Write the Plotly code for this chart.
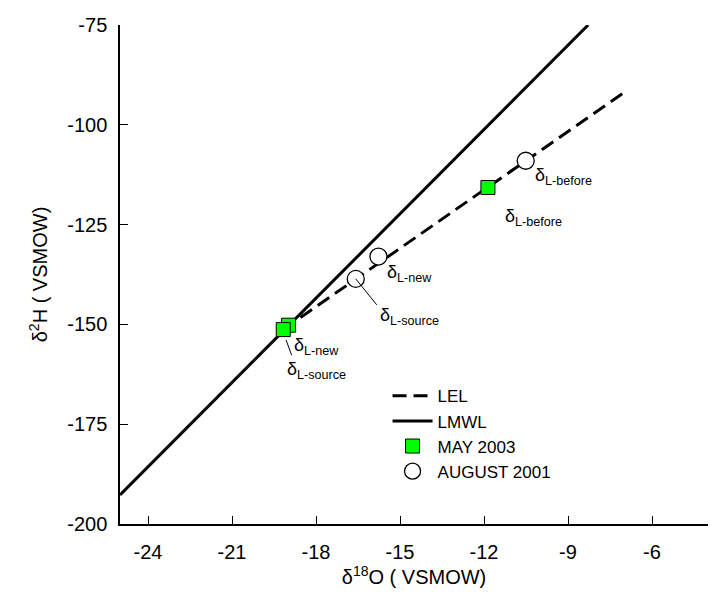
import plotly.graph_objects as go

# ---- data ----
lmwl_x = [-25.0, -8.28]
lmwl_y = [-192.7, -75.0]
lel_x = [-19.17, -6.96]
lel_y = [-151.3, -91.7]

may_labels = ["L-new", "L-source", "L-before"]
may_x = [-18.98, -19.17, -11.86]
may_y = [-150.2, -151.3, -115.7]

aug_labels = ["L-new", "L-source", "L-before"]
aug_x = [-15.77, -16.58, -10.51]
aug_y = [-133.0, -138.6, -109.0]

x_ticks = [-24, -21, -18, -15, -12, -9, -6]
y_ticks = [-75, -100, -125, -150, -175, -200]

FONT = "Liberation Sans, Arial, sans-serif"

fig = go.Figure()
fig.add_trace(go.Scatter(x=lel_x, y=lel_y, mode="lines", name="LEL",
                         line=dict(color="black", width=3, dash="14px,7px")))
fig.add_trace(go.Scatter(x=lmwl_x, y=lmwl_y, mode="lines", name="LMWL",
                         line=dict(color="black", width=3)))
fig.add_trace(go.Scatter(x=may_x, y=may_y, mode="markers", name="MAY 2003",
                         marker=dict(symbol="square", size=14, color="#00ff00",
                                     line=dict(color="black", width=1))))
fig.add_trace(go.Scatter(x=aug_x, y=aug_y, mode="markers", name="AUGUST 2001",
                         marker=dict(symbol="circle", size=17, color="white",
                                     line=dict(color="black", width=1.3))))

# labels
lab_pos = [
    (-18.86, -155.6, may_labels[0]),
    (-19.11, -161.6, may_labels[1]),
    (-11.32, -123.2, may_labels[2]),
    (-15.54, -137.2, aug_labels[0]),
    (-15.79, -148.0, aug_labels[1]),
    (-10.25, -113.0, aug_labels[2]),
]
for lx, ly, t in lab_pos:
    fig.add_annotation(x=lx, y=ly, xref="x", yref="y", text="δ<sub>" + t + "</sub>",
                       showarrow=False, xanchor="left", yanchor="middle",
                       font=dict(family=FONT, size=18, color="black"))

# leader lines
for (x0, y0, x1, y1) in [(-19.07, -153.9, -18.87, -157.7),
                         (-16.58, -138.6, -15.83, -145.1)]:
    fig.add_shape(type="line", x0=x0, y0=y0, x1=x1, y1=y1, xref="x", yref="y",
                  line=dict(color="black", width=1))

fig.update_layout(
    width=711, height=598,
    margin=dict(l=120, r=3, t=25, b=74),
    paper_bgcolor="white", plot_bgcolor="white",
    font=dict(family=FONT, size=20, color="black"),
    showlegend=True,
    legend=dict(x=0.455, y=0.292, xanchor="left", yanchor="top",
                bgcolor="rgba(0,0,0,0)", font=dict(size=17),
                tracegroupgap=0, itemwidth=40),
)
fig.update_xaxes(range=[-25, -4], tickvals=x_ticks, ticktext=[str(v) for v in x_ticks],
                 ticks="inside", ticklen=8, tickwidth=1, tickcolor="black",
                 ticklabelstandoff=9,
                 showline=True, linecolor="black", linewidth=1.5, mirror=False,
                 showgrid=False, zeroline=False,
                 title=dict(text="δ<sup>18</sup>O ( VSMOW)", font=dict(size=20), standoff=4))
fig.update_yaxes(range=[-200, -75], tickvals=y_ticks, ticktext=[str(v) for v in y_ticks],
                 ticks="inside", ticklen=8, tickwidth=1, tickcolor="black",
                 ticklabelstandoff=7,
                 showline=True, linecolor="black", linewidth=1.5, mirror=False,
                 showgrid=False, zeroline=False,
                 title=dict(text="δ<sup>2</sup>H ( VSMOW)", font=dict(size=20), standoff=14))

fig.write_html("out.html")
